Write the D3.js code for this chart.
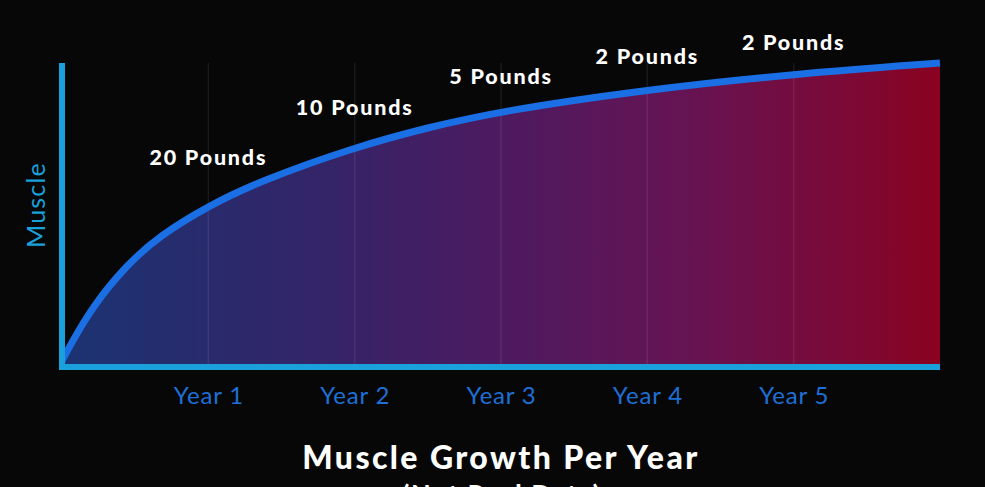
<!DOCTYPE html>
<html>
<head>
<meta charset="utf-8">
<script src="https://cdn.jsdelivr.net/npm/d3@7"></script>
<style>
html,body{margin:0;padding:0;background:#070707;overflow:hidden;}
svg{display:block;}
</style>
</head>
<body>
<svg id="chart" width="985" height="487"></svg>
<script>
// ---- data ----
const curveYears  = [0, 0.06, 0.21, 0.44, 0.67, 1, 1.36, 2, 2.5, 3, 4, 5, 6];
const curveMuscle = [2, 7.5, 20, 33.5, 43.3, 53, 61.3, 72.3, 78.8, 84.2, 91.3, 96.4, 100];
const tickYears   = [1, 2, 3, 4, 5];
const tickLabels  = ["Year 1", "Year 2", "Year 3", "Year 4", "Year 5"];
const gainLabels  = ["20 Pounds", "10 Pounds", "5 Pounds", "2 Pounds", "2 Pounds"];
const gainYears   = [1, 2, 3, 4, 5];
const gainLevels  = [69, 85.5, 95.7, 102.3, 106.6];
const yLabel = "Muscle";
const title = "Muscle Growth Per Year";
const subtitle = "(Not Real Data)";

// ---- layout ----
const svg = d3.select("#chart");
const x0 = 62, x1 = 940, yBase = 367, yTop = 63;
const x = d3.scaleLinear().domain([0, 6]).range([x0, x1]);
const y = d3.scaleLinear().domain([0, 100]).range([yBase, yTop]);

const pts = curveYears.map((d, i) => ({ t: d, v: curveMuscle[i] }));

const defs = svg.append("defs");
const grad = defs.append("linearGradient").attr("id", "fillGrad")
  .attr("gradientUnits", "userSpaceOnUse")
  .attr("x1", x0).attr("x2", x1).attr("y1", 0).attr("y2", 0);
[[0, "#1b3372"], [0.3, "#342468"], [0.5, "#4d1a60"], [0.72, "#671352"], [0.88, "#7a0a38"], [1, "#8a0220"]]
  .forEach(([o, c]) => grad.append("stop").attr("offset", o).attr("stop-color", c));

const curveType = d3.curveBasis;

// area fill
const area = d3.area().x(d => x(d.t)).y0(y(0)).y1(d => y(d.v)).curve(curveType);
svg.append("path").datum(pts).attr("d", area).attr("fill", "url(#fillGrad)");

// grid lines
svg.append("g").selectAll("line").data(tickYears).join("line")
  .attr("x1", d => x(d)).attr("x2", d => x(d))
  .attr("y1", y(100)).attr("y2", y(0))
  .attr("stroke", "rgba(255,255,255,0.08)").attr("stroke-width", 1.5);

// curve line
const line = d3.line().x(d => x(d.t)).y(d => y(d.v)).curve(curveType);
svg.append("path").datum(pts).attr("d", line)
  .attr("fill", "none").attr("stroke", "#1b6fe4").attr("stroke-width", 7)
  .attr("stroke-linecap", "butt");

// axes
const axisColor = "#1aa0da";
svg.append("line").attr("x1", x(0)).attr("x2", x(0)).attr("y1", y(100)).attr("y2", y(0) + 3)
  .attr("stroke", axisColor).attr("stroke-width", 6);
svg.append("line").attr("x1", x(0) - 3).attr("x2", x(6)).attr("y1", y(0)).attr("y2", y(0))
  .attr("stroke", axisColor).attr("stroke-width", 6);

// x tick labels via d3 axis
const xAxis = d3.axisBottom(x).tickValues(tickYears)
  .tickFormat((d, i) => tickLabels[i]).tickSize(0).tickPadding(0);
const gx = svg.append("g").attr("transform", `translate(0,${yBase})`).call(xAxis);
gx.select(".domain").remove();
gx.selectAll("text")
  .attr("y", 29).attr("dy", "0.35em")
  .attr("fill", "#1e6fd6")
  .style("font-family", "Lato, 'Open Sans', sans-serif")
  .style("font-size", "24px")
  .style("letter-spacing", "0.8px");

// y label
svg.append("text").attr("transform", `translate(36,205) rotate(-90)`)
  .attr("text-anchor", "middle").attr("dy", "0.35em")
  .attr("fill", "#1aa0da")
  .style("font-family", "Lato, 'Open Sans', sans-serif")
  .style("font-size", "25px")
  .style("letter-spacing", "1.2px")
  .text(yLabel);

// gain annotations
svg.append("g").selectAll("text").data(gainLabels).join("text")
  .attr("x", (d, i) => x(gainYears[i]))
  .attr("y", (d, i) => y(gainLevels[i]))
  .attr("dy", "0.35em").attr("text-anchor", "middle")
  .attr("fill", "#ffffff")
  .style("font-family", "Lato, sans-serif").style("font-weight", "900")
  .style("font-size", "21.5px")
  .style("letter-spacing", "1.8px")
  .text(d => d);

// title
svg.append("text").attr("x", 501).attr("y", 469).attr("text-anchor", "middle")
  .attr("fill", "#ffffff")
  .style("font-family", "Lato, sans-serif").style("font-weight", "900")
  .style("font-size", "32px")
  .style("letter-spacing", "2.4px")
  .text(title);
svg.append("text").attr("x", 502).attr("y", 503).attr("text-anchor", "middle")
  .attr("fill", "#ffffff")
  .style("font-family", "Lato, sans-serif").style("font-weight", "900")
  .style("font-size", "25px")
  .style("letter-spacing", "2px")
  .text(subtitle);
</script>
</body>
</html>
